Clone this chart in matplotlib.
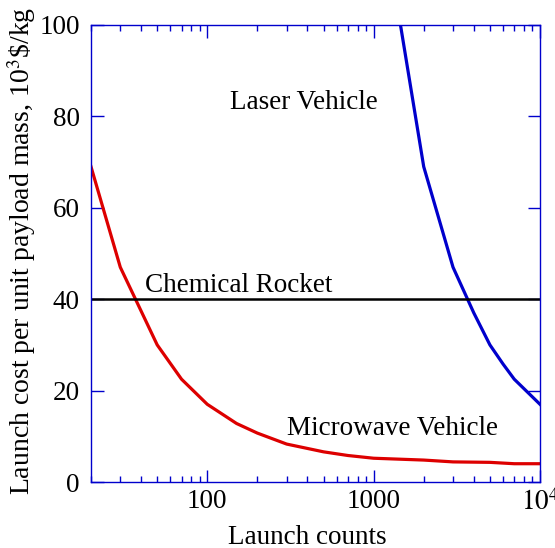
import numpy as np
import matplotlib.pyplot as plt
from matplotlib.ticker import FixedLocator, FuncFormatter, LogLocator, NullFormatter

plt.rcParams['font.family'] = ['Liberation Serif', 'DejaVu Serif']
plt.rcParams['mathtext.fontset'] = 'stix'

# Microwave vehicle
mw_counts = [20, 30, 50, 70, 100, 150, 200, 300, 500, 700, 1000, 2000, 3000, 5000, 7000, 10000]
mw_cost = [69, 47, 30, 22.5, 17, 12.8, 10.7, 8.3, 6.6, 5.8, 5.2, 4.8, 4.4, 4.3, 4.0, 4.0]

# Laser vehicle
laser_counts = [1450, 2000, 3000, 4000, 5000, 6000, 7000, 10000]
laser_cost = [100, 69, 47, 37, 30, 25.8, 22.5, 17]

# Chemical rocket
chem_cost = 40

blue = '#0000cc'
fs = 19.5

fig = plt.figure(figsize=(5.55, 5.48), dpi=100)
ax = fig.add_axes([91/555, 66/548, 449/555, 457/548])

ax.plot(mw_counts, mw_cost, color='#dd0000', lw=2.3)
ax.plot(laser_counts, laser_cost, color=blue, lw=2.3)
ax.axhline(chem_cost, color='black', lw=1.8)

ax.set_xscale('log')
ax.set_xlim(20, 10000)
ax.set_ylim(0, 100)

ax.xaxis.set_major_locator(FixedLocator([100, 1000, 10000]))
ax.xaxis.set_major_formatter(FuncFormatter(
    lambda v, p: r'$10^4$' if v >= 9999 else '%d' % v))
ax.xaxis.set_minor_locator(LogLocator(base=10, subs=np.arange(2, 10)))
ax.xaxis.set_minor_formatter(NullFormatter())
ax.set_yticks([0, 20, 40, 60, 80, 100])

for s in ax.spines.values():
    s.set_color(blue)
    s.set_linewidth(1.0)
ax.tick_params(which='both', direction='in', top=True, right=True,
               colors=blue, labelcolor='black', labelsize=fs, width=1.0)
ax.tick_params(which='major', length=9)
ax.tick_params(which='minor', length=4.5)
ax.tick_params(axis='x', which='major', pad=5)
ax.tick_params(axis='y', which='major', pad=8)

ax.set_xlabel('Launch counts', fontsize=fs)
ax.xaxis.set_label_coords(0.481, -0.095)
ax.set_ylabel(r'Launch cost per unit payload mass, 10$^3$\$/kg', fontsize=20)
ax.yaxis.set_label_coords(-0.118, 0.505)

ax.text(137, 83, 'Laser Vehicle', fontsize=fs, va='center')
ax.text(42, 43, 'Chemical Rocket', fontsize=fs, va='center')
ax.text(300, 11.8, 'Microwave Vehicle', fontsize=fs, va='center')

fig.savefig('out.png', dpi=100)
